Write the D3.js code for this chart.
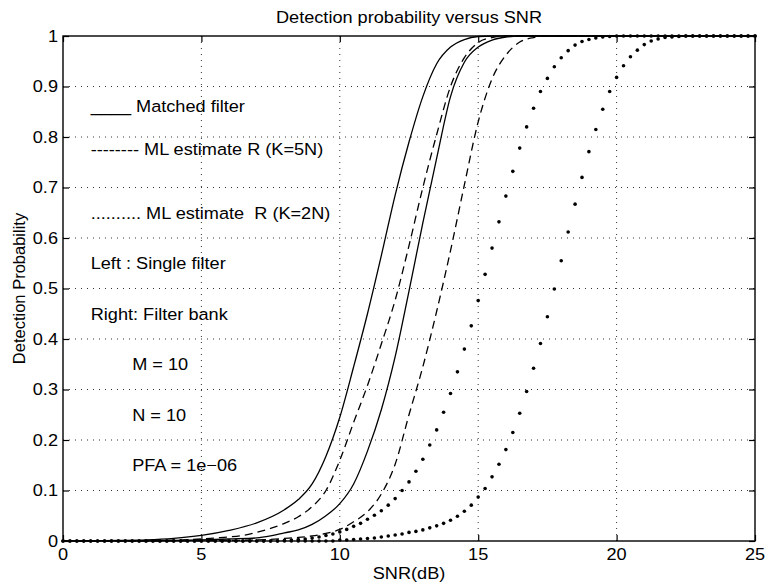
<!DOCTYPE html>
<html>
<head>
<meta charset="utf-8">
<script src="https://cdn.jsdelivr.net/npm/d3@7"></script>
<style>
  body { margin: 0; background: #fff; }
  text { font-family: "Liberation Sans", Arial, Helvetica, sans-serif; fill: #000; white-space: pre; }
</style>
</head>
<body>
<div id="chart"></div>
<script>
// axis ticks
const snrTicks = [0, 5, 10, 15, 20, 25];
const pdTicks = [0, 0.1, 0.2, 0.3, 0.4, 0.5, 0.6, 0.7, 0.8, 0.9, 1];

// solid / dashed curves, [SNR dB, Pd]
const matchedSingle = [[0,0],[1,0.0005],[2,0.001],[3,0.002],[4,0.005],[5,0.011],[6,0.021],[7,0.036],[8,0.062],
  [8.5,0.082],[9,0.113],[9.5,0.168],[10,0.245],[10.5,0.345],[11,0.45],[11.5,0.565],[12,0.685],[12.5,0.79],
  [13,0.88],[13.5,0.945],[14,0.978],[14.5,0.993],[15,0.999],[15.5,1],[25,1]];
const matchedBank = [[0,0],[3,0.0003],[5,0.002],[6,0.004],[7,0.006],[7.5,0.01],[8,0.016],[8.5,0.022],[9,0.033],
  [9.5,0.05],[10,0.074],[10.5,0.113],[11,0.178],[11.5,0.26],[12,0.365],[12.5,0.495],[13,0.63],[13.5,0.758],
  [14,0.88],[14.5,0.948],[15,0.978],[15.5,0.992],[16,0.998],[16.5,1],[25,1]];
const ml5NSingle = [[0,0],[3,0.0005],[5,0.004],[5.5,0.006],[6,0.008],[6.5,0.011],[7,0.017],[7.5,0.025],[8,0.035],
  [8.5,0.048],[9,0.068],[9.5,0.1],[10,0.16],[10.5,0.235],[11,0.308],[11.5,0.39],[12,0.477],[12.5,0.585],[13,0.7],
  [13.5,0.805],[14,0.9],[14.5,0.957],[15,0.987],[15.5,0.997],[16,1],[25,1]];
const ml5NBank = [[0,0],[5,0.0005],[7,0.002],[7.5,0.003],[8,0.005],[8.5,0.007],[9,0.01],[9.5,0.015],[10,0.023],
  [10.5,0.038],[11,0.058],[11.5,0.093],[12,0.152],[12.5,0.25],[13,0.345],[13.5,0.455],[14,0.575],[14.5,0.705],
  [15,0.83],[15.5,0.915],[16,0.962],[16.5,0.988],[17,0.997],[17.5,1],[25,1]];

// dotted curves: one dot per sample, every 0.25 dB
const snrDots = [
  0, 0.25, 0.5, 0.75, 1, 1.25, 1.5, 1.75, 2, 2.25, 2.5, 2.75, 3, 3.25, 3.5, 3.75,
  4, 4.25, 4.5, 4.75, 5, 5.25, 5.5, 5.75, 6, 6.25, 6.5, 6.75, 7, 7.25, 7.5, 7.75,
  8, 8.25, 8.5, 8.75, 9, 9.25, 9.5, 9.75, 10, 10.25, 10.5, 10.75, 11, 11.25, 11.5, 11.75,
  12, 12.25, 12.5, 12.75, 13, 13.25, 13.5, 13.75, 14, 14.25, 14.5, 14.75, 15, 15.25, 15.5, 15.75,
  16, 16.25, 16.5, 16.75, 17, 17.25, 17.5, 17.75, 18, 18.25, 18.5, 18.75, 19, 19.25, 19.5, 19.75,
  20, 20.25, 20.5, 20.75, 21, 21.25, 21.5, 21.75, 22, 22.25, 22.5, 22.75, 23, 23.25, 23.5, 23.75,
  24, 24.25, 24.5, 24.75, 25];
const ml2NSingle = [
  0, 0, 0, 0, 0, 0, 0, 0, 0, 0, 0, 0, 0, 0, 0, 0,
  0, 0, 0, 0, 0, 0, 0, 0, 0, 0, 0, 0, 0, 0, 0, 0,
  0.0015, 0.002, 0.003, 0.004, 0.006, 0.008, 0.011, 0.014, 0.018, 0.023, 0.029, 0.035, 0.043, 0.051, 0.06, 0.071,
  0.084, 0.1, 0.117, 0.138, 0.162, 0.19, 0.22, 0.255, 0.292, 0.335, 0.38, 0.426, 0.476, 0.528, 0.58, 0.632,
  0.683, 0.732, 0.778, 0.82, 0.857, 0.89, 0.916, 0.939, 0.957, 0.971, 0.982, 0.989, 0.993, 0.996, 0.998, 0.999,
  1, 1, 1, 1, 1, 1, 1, 1, 1, 1, 1, 1, 1, 1, 1, 1,
  1, 1, 1, 1, 1];
const ml2NBank = [
  0, 0, 0, 0, 0, 0, 0, 0, 0, 0, 0, 0, 0, 0, 0, 0,
  0, 0, 0, 0, 0, 0, 0, 0, 0, 0, 0, 0, 0, 0, 0, 0,
  0, 0, 0, 0, 0, 0, 0, 0, 0.002, 0.002, 0.003, 0.004, 0.005, 0.006, 0.008, 0.01,
  0.012, 0.014, 0.017, 0.019, 0.022, 0.026, 0.03, 0.035, 0.041, 0.049, 0.059, 0.071, 0.087, 0.104, 0.127, 0.152,
  0.181, 0.215, 0.253, 0.296, 0.342, 0.391, 0.444, 0.499, 0.555, 0.612, 0.667, 0.72, 0.771, 0.815, 0.855, 0.89,
  0.918, 0.941, 0.959, 0.972, 0.983, 0.99, 0.994, 0.997, 0.998, 0.999, 1, 1, 1, 1, 1, 1,
  1, 1, 1, 1, 1];

// text inside the axes: [SNR, Pd, string]
const notes = [
  [1, 0.86, "____ Matched filter"],
  [1, 0.775, "-------- ML estimate R (K=5N)"],
  [1, 0.65, ".......... ML estimate  R (K=2N)"],
  [1, 0.55, "Left : Single filter"],
  [1, 0.45, "Right: Filter bank"],
  [2.5, 0.35, "M = 10"],
  [2.5, 0.25, "N = 10"],
  [2.5, 0.15, "PFA = 1e\u221206"]
];

const width = 765, height = 584;
const margin = { top: 36, right: 10, bottom: 43, left: 63 };
const fs = 16.5;

const svg = d3.select('#chart').append('svg')
  .attr('width', width)
  .attr('height', height);

const x = d3.scaleLinear().domain([0, 25]).range([margin.left, width - margin.right]);
const y = d3.scaleLinear().domain([0, 1]).range([height - margin.bottom, margin.top]);

// scanned text is a bit wide, so stretch it sideways
function label(g, px, py, str, anchor) {
  return g.append('text')
    .attr('transform', `translate(${px},${py}) scale(1.1,1)`)
    .attr('text-anchor', anchor || 'start')
    .attr('dy', '0.35em')
    .style('font-size', fs + 'px')
    .text(str);
}

// grid
const grid = svg.append('g');
grid.selectAll('.gx')
  .data(snrTicks.slice(1, -1))
  .enter().append('line')
  .attr('x1', d => x(d)).attr('x2', d => x(d))
  .attr('y1', y(0)).attr('y2', y(1))
  .attr('stroke', '#333').attr('stroke-width', 1)
  .attr('stroke-dasharray', '1,5');
grid.selectAll('.gy')
  .data(pdTicks.slice(1, -1))
  .enter().append('line')
  .attr('y1', d => y(d)).attr('y2', d => y(d))
  .attr('x1', x(0)).attr('x2', x(25))
  .attr('stroke', '#333').attr('stroke-width', 1)
  .attr('stroke-dasharray', '1,5');

// axes with inward ticks
const tl = 6;
svg.append('g').attr('transform', `translate(0,${y(0)})`)
  .call(d3.axisBottom(x).tickValues(snrTicks).tickSize(-tl).tickFormat(''));
svg.append('g').attr('transform', `translate(0,${y(1)})`)
  .call(d3.axisTop(x).tickValues(snrTicks).tickSize(-tl).tickFormat(''));
svg.append('g').attr('transform', `translate(${x(0)},0)`)
  .call(d3.axisLeft(y).tickValues(pdTicks).tickSize(-tl).tickFormat(''));
svg.append('g').attr('transform', `translate(${x(25)},0)`)
  .call(d3.axisRight(y).tickValues(pdTicks).tickSize(-tl).tickFormat(''));
svg.selectAll('.domain').remove();
svg.selectAll('.tick line').attr('stroke', '#000').attr('stroke-width', 1.2);

svg.append('rect')
  .attr('x', x(0)).attr('y', y(1))
  .attr('width', x(25) - x(0)).attr('height', y(0) - y(1))
  .attr('fill', 'none').attr('stroke', '#000').attr('stroke-width', 1.4);

// tick labels
const lab = svg.append('g');
snrTicks.forEach(t => label(lab, x(t), y(0) + 13, String(t), 'middle'));
pdTicks.forEach(t => label(lab, x(0) - 5, y(t), String(t), 'end'));

// curves
const line = d3.line()
  .x(d => x(d[0]))
  .y(d => y(d[1]))
  .curve(d3.curveMonotoneX);

const curves = svg.append('g').attr('fill', 'none').attr('stroke', '#000').attr('stroke-width', 1.3);
[matchedSingle, matchedBank].forEach(c => curves.append('path').attr('d', line(c)));
[ml5NSingle, ml5NBank].forEach(c => curves.append('path').attr('d', line(c)).attr('stroke-dasharray', '8,5'));

const dots = svg.append('g').attr('fill', '#000');
[ml2NSingle, ml2NBank].forEach(vals => {
  dots.append('g').selectAll('circle')
    .data(snrDots.map((s, i) => [s, vals[i]]))
    .enter().append('circle')
    .attr('cx', d => x(d[0]))
    .attr('cy', d => y(d[1]))
    .attr('r', 1.8);
});

// notes inside the axes
const ann = svg.append('g');
notes.forEach(n => label(ann, x(n[0]), y(n[1]), n[2]));

// titles
label(svg, (x(0) + x(25)) / 2, 17, 'Detection probability versus SNR', 'middle');
label(svg, (x(0) + x(25)) / 2, 573, 'SNR(dB)', 'middle');
svg.append('text')
  .attr('transform', `translate(19,${(y(0) + y(1)) / 2}) rotate(-90)`)
  .attr('text-anchor', 'middle')
  .attr('dy', '0.35em')
  .style('font-size', fs + 'px')
  .text('Detection Probability');
</script>
</body>
</html>
